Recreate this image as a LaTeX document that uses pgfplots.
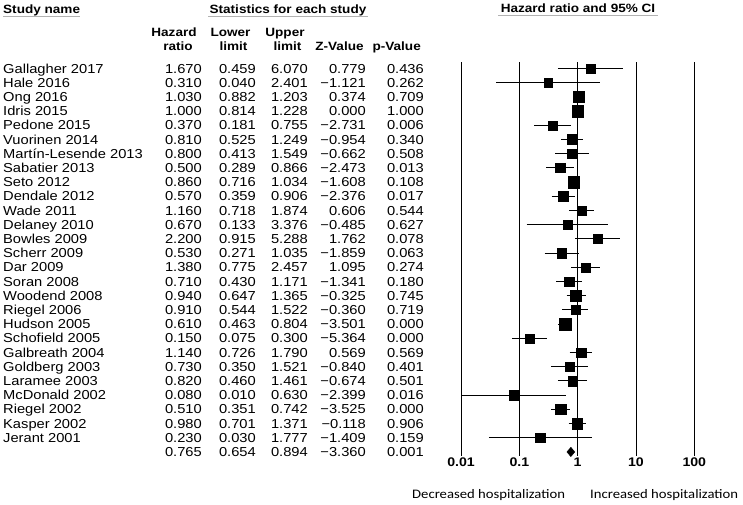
\documentclass[border=0pt]{standalone}
\usepackage{fontspec}
\setmainfont{Liberation Sans}[FakeStretch=1.13]
\newfontfamily\calfont{Carlito}[FakeStretch=1.13]
\usepackage{pgfplots}
\usepackage{pgfplotstable}
\pgfplotsset{compat=1.18}

\pgfplotstableread{
name hr lo hi z p side
{Gallagher 2017} 1.670 0.459 6.070 0.779 0.436 9
{Hale 2016} 0.310 0.040 2.401 -1.121 0.262 9
{Ong 2016} 1.030 0.882 1.203 0.374 0.709 11.7
{Idris 2015} 1.000 0.814 1.228 0.000 1.000 12
{Pedone 2015} 0.370 0.181 0.755 -2.731 0.006 9.7
{Vuorinen 2014} 0.810 0.525 1.249 -0.954 0.340 10.3
{Martín-Lesende 2013} 0.800 0.413 1.549 -0.662 0.508 9.7
{Sabatier 2013} 0.500 0.289 0.866 -2.473 0.013 9.7
{Seto 2012} 0.860 0.716 1.034 -1.608 0.108 11.7
{Dendale 2012} 0.570 0.359 0.906 -2.376 0.017 10
{Wade 2011} 1.160 0.718 1.874 0.606 0.544 9.7
{Delaney 2010} 0.670 0.133 3.376 -0.485 0.627 9.3
{Bowles 2009} 2.200 0.915 5.288 1.762 0.078 9.7
{Scherr 2009} 0.530 0.271 1.035 -1.859 0.063 9.7
{Dar 2009} 1.380 0.775 2.457 1.095 0.274 9.7
{Soran 2008} 0.710 0.430 1.171 -1.341 0.180 10
{Woodend 2008} 0.940 0.647 1.365 -0.325 0.745 11.3
{Riegel 2006} 0.910 0.544 1.522 -0.360 0.719 9.5
{Hudson 2005} 0.610 0.463 0.804 -3.501 0.000 12.3
{Schofield 2005} 0.150 0.075 0.300 -5.364 0.000 9.3
{Galbreath 2004} 1.140 0.726 1.790 0.569 0.569 10
{Goldberg 2003} 0.730 0.350 1.521 -0.840 0.401 9.3
{Laramee 2003} 0.820 0.460 1.461 -0.674 0.501 10
{McDonald 2002} 0.080 0.010 0.630 -2.399 0.016 10
{Riegel 2002} 0.510 0.351 0.742 -3.525 0.000 11
{Kasper 2002} 0.980 0.701 1.371 -0.118 0.906 11
{Jerant 2001} 0.230 0.030 1.777 -1.409 0.159 10
}\tbl

\pgfplotstableread{
hr lo hi z p
0.765 0.654 0.894 -3.360 0.001
}\sumtbl

\def\stripm-#1\relax{#1}
\newcommand\fmtz[1]{\ifdim#1pt<0pt −\expandafter\stripm#1\relax\else#1\fi}
\newcommand\bodyfont{\fontsize{13bp}{15bp}\selectfont}
\newcommand\headfont{\fontsize{12bp}{14bp}\selectfont\bfseries}

\begin{document}
\begin{tikzpicture}
\useasboundingbox (0,0) rectangle (743bp,-505bp);

\begin{axis}[
  scale only axis,
  width=233.3bp, height=394bp,
  at={(461bp,-456bp)}, anchor=south west,
  xmode=log, xmin=0.01, xmax=100,
  ymin=-0.46, ymax=27.286, y dir=reverse,
  xtick={0.01,0.1,1,10,100},
  xticklabels={0.01,0.1,1,10,100},
  ytick=\empty,
  xmajorgrids, grid style={black, line width=0.7pt},
  axis line style={draw=none},
  tick style={draw=none},
  xticklabel style={font=\fontsize{12.5bp}{14bp}\selectfont\bfseries, inner sep=2pt},
  clip=false,
]
\pgfplotsinvokeforeach{0,...,26}{
  \pgfplotstablegetelem{#1}{lo}\of\tbl \let\lo\pgfplotsretval
  \pgfplotstablegetelem{#1}{hi}\of\tbl \let\hi\pgfplotsretval
  \pgfplotstablegetelem{#1}{hr}\of\tbl \let\hr\pgfplotsretval
  \pgfplotstablegetelem{#1}{side}\of\tbl \let\sd\pgfplotsretval
  \pgfmathsetmacro\ms{\sd/2-0.2}
  \edef\cmd{\noexpand\addplot[black, line width=1.1pt, forget plot] coordinates {(\lo,#1) (\hi,#1)};
    \noexpand\addplot[only marks, mark=square*, mark size=\ms, black, forget plot] coordinates {(\hr,#1)};}
  \cmd
}
\pgfplotstablegetelem{0}{hr}\of\sumtbl \let\shr\pgfplotsretval
\pgfplotstablegetelem{0}{lo}\of\sumtbl \let\slo\pgfplotsretval
\pgfplotstablegetelem{0}{hi}\of\sumtbl \let\shi\pgfplotsretval
\edef\cmd{\noexpand\addplot[black, fill=black, forget plot] coordinates {(\slo,27) (\shr,26.67) (\shi,27) (\shr,27.33)} -- cycle;}
\cmd
\end{axis}

% headers
\node[anchor=base west, inner sep=0, font=\headfont] at (3bp,-13.5bp) {Study name};
\draw[gray!60, line width=0.8pt] (3bp,-16.5bp) -- (80bp,-16.5bp);
\node[anchor=base, inner sep=0, font=\headfont] at (288bp,-13.5bp) {Statistics for each study};
\draw[gray!60, line width=0.8pt] (208bp,-16.5bp) -- (368bp,-16.5bp);
\node[anchor=base, inner sep=0, font=\headfont] at (578bp,-12.5bp) {Hazard ratio and 95\% CI};
\draw[gray!60, line width=0.8pt] (498bp,-15.5bp) -- (658bp,-15.5bp);

\node[anchor=base, inner sep=0, font=\headfont] at (174bp,-36bp) {Hazard};
\node[anchor=base, inner sep=0, font=\headfont] at (178bp,-50.5bp) {ratio};
\node[anchor=base, inner sep=0, font=\headfont] at (230.5bp,-36bp) {Lower};
\node[anchor=base, inner sep=0, font=\headfont] at (233.5bp,-50.5bp) {limit};
\node[anchor=base, inner sep=0, font=\headfont] at (285bp,-36bp) {Upper};
\node[anchor=base, inner sep=0, font=\headfont] at (287.5bp,-50.5bp) {limit};
\node[anchor=base, inner sep=0, font=\headfont] at (339.5bp,-50.5bp) {Z-Value};
\node[anchor=base, inner sep=0, font=\headfont] at (396.7bp,-50.5bp) {p-Value};

% rows
\foreach \i in {0,...,26}{
  \pgfplotstablegetelem{\i}{name}\of\tbl \let\nm\pgfplotsretval
  \pgfplotstablegetelem{\i}{hr}\of\tbl \let\vhr\pgfplotsretval
  \pgfplotstablegetelem{\i}{lo}\of\tbl \let\vlo\pgfplotsretval
  \pgfplotstablegetelem{\i}{hi}\of\tbl \let\vhi\pgfplotsretval
  \pgfplotstablegetelem{\i}{z}\of\tbl \let\vz\pgfplotsretval
  \pgfplotstablegetelem{\i}{p}\of\tbl \let\vp\pgfplotsretval
  \pgfmathsetmacro\yy{-(68.5+14.2*\i+4.6)}
  \node[anchor=base west, inner sep=0, font=\bodyfont] at (3bp,\yy bp) {\nm};
  \node[anchor=base east, inner sep=0, font=\bodyfont] at (202bp,\yy bp) {\vhr};
  \node[anchor=base east, inner sep=0, font=\bodyfont] at (256bp,\yy bp) {\vlo};
  \node[anchor=base east, inner sep=0, font=\bodyfont] at (308bp,\yy bp) {\vhi};
  \node[anchor=base east, inner sep=0, font=\bodyfont] at (366bp,\yy bp) {\fmtz{\vz}};
  \node[anchor=base east, inner sep=0, font=\bodyfont] at (424bp,\yy bp) {\vp};
}
% summary row
\pgfplotstablegetelem{0}{hr}\of\sumtbl \let\vhr\pgfplotsretval
\pgfplotstablegetelem{0}{lo}\of\sumtbl \let\vlo\pgfplotsretval
\pgfplotstablegetelem{0}{hi}\of\sumtbl \let\vhi\pgfplotsretval
\pgfplotstablegetelem{0}{z}\of\sumtbl \let\vz\pgfplotsretval
\pgfplotstablegetelem{0}{p}\of\sumtbl \let\vp\pgfplotsretval
\pgfmathsetmacro\yy{-(68.5+14.2*27+4.6)}
\node[anchor=base east, inner sep=0, font=\bodyfont] at (202bp,\yy bp) {\vhr};
\node[anchor=base east, inner sep=0, font=\bodyfont] at (256bp,\yy bp) {\vlo};
\node[anchor=base east, inner sep=0, font=\bodyfont] at (308bp,\yy bp) {\vhi};
\node[anchor=base east, inner sep=0, font=\bodyfont] at (366bp,\yy bp) {\fmtz{\vz}};
\node[anchor=base east, inner sep=0, font=\bodyfont] at (424bp,\yy bp) {\vp};

% bottom labels
\node[anchor=base west, inner sep=0, font=\calfont\fontsize{13bp}{15bp}\selectfont] at (412bp,-498bp) {Decreased hospitalization};
\node[anchor=base west, inner sep=0, font=\calfont\fontsize{13bp}{15bp}\selectfont] at (590bp,-498bp) {Increased hospitalization};
\end{tikzpicture}
\end{document}
